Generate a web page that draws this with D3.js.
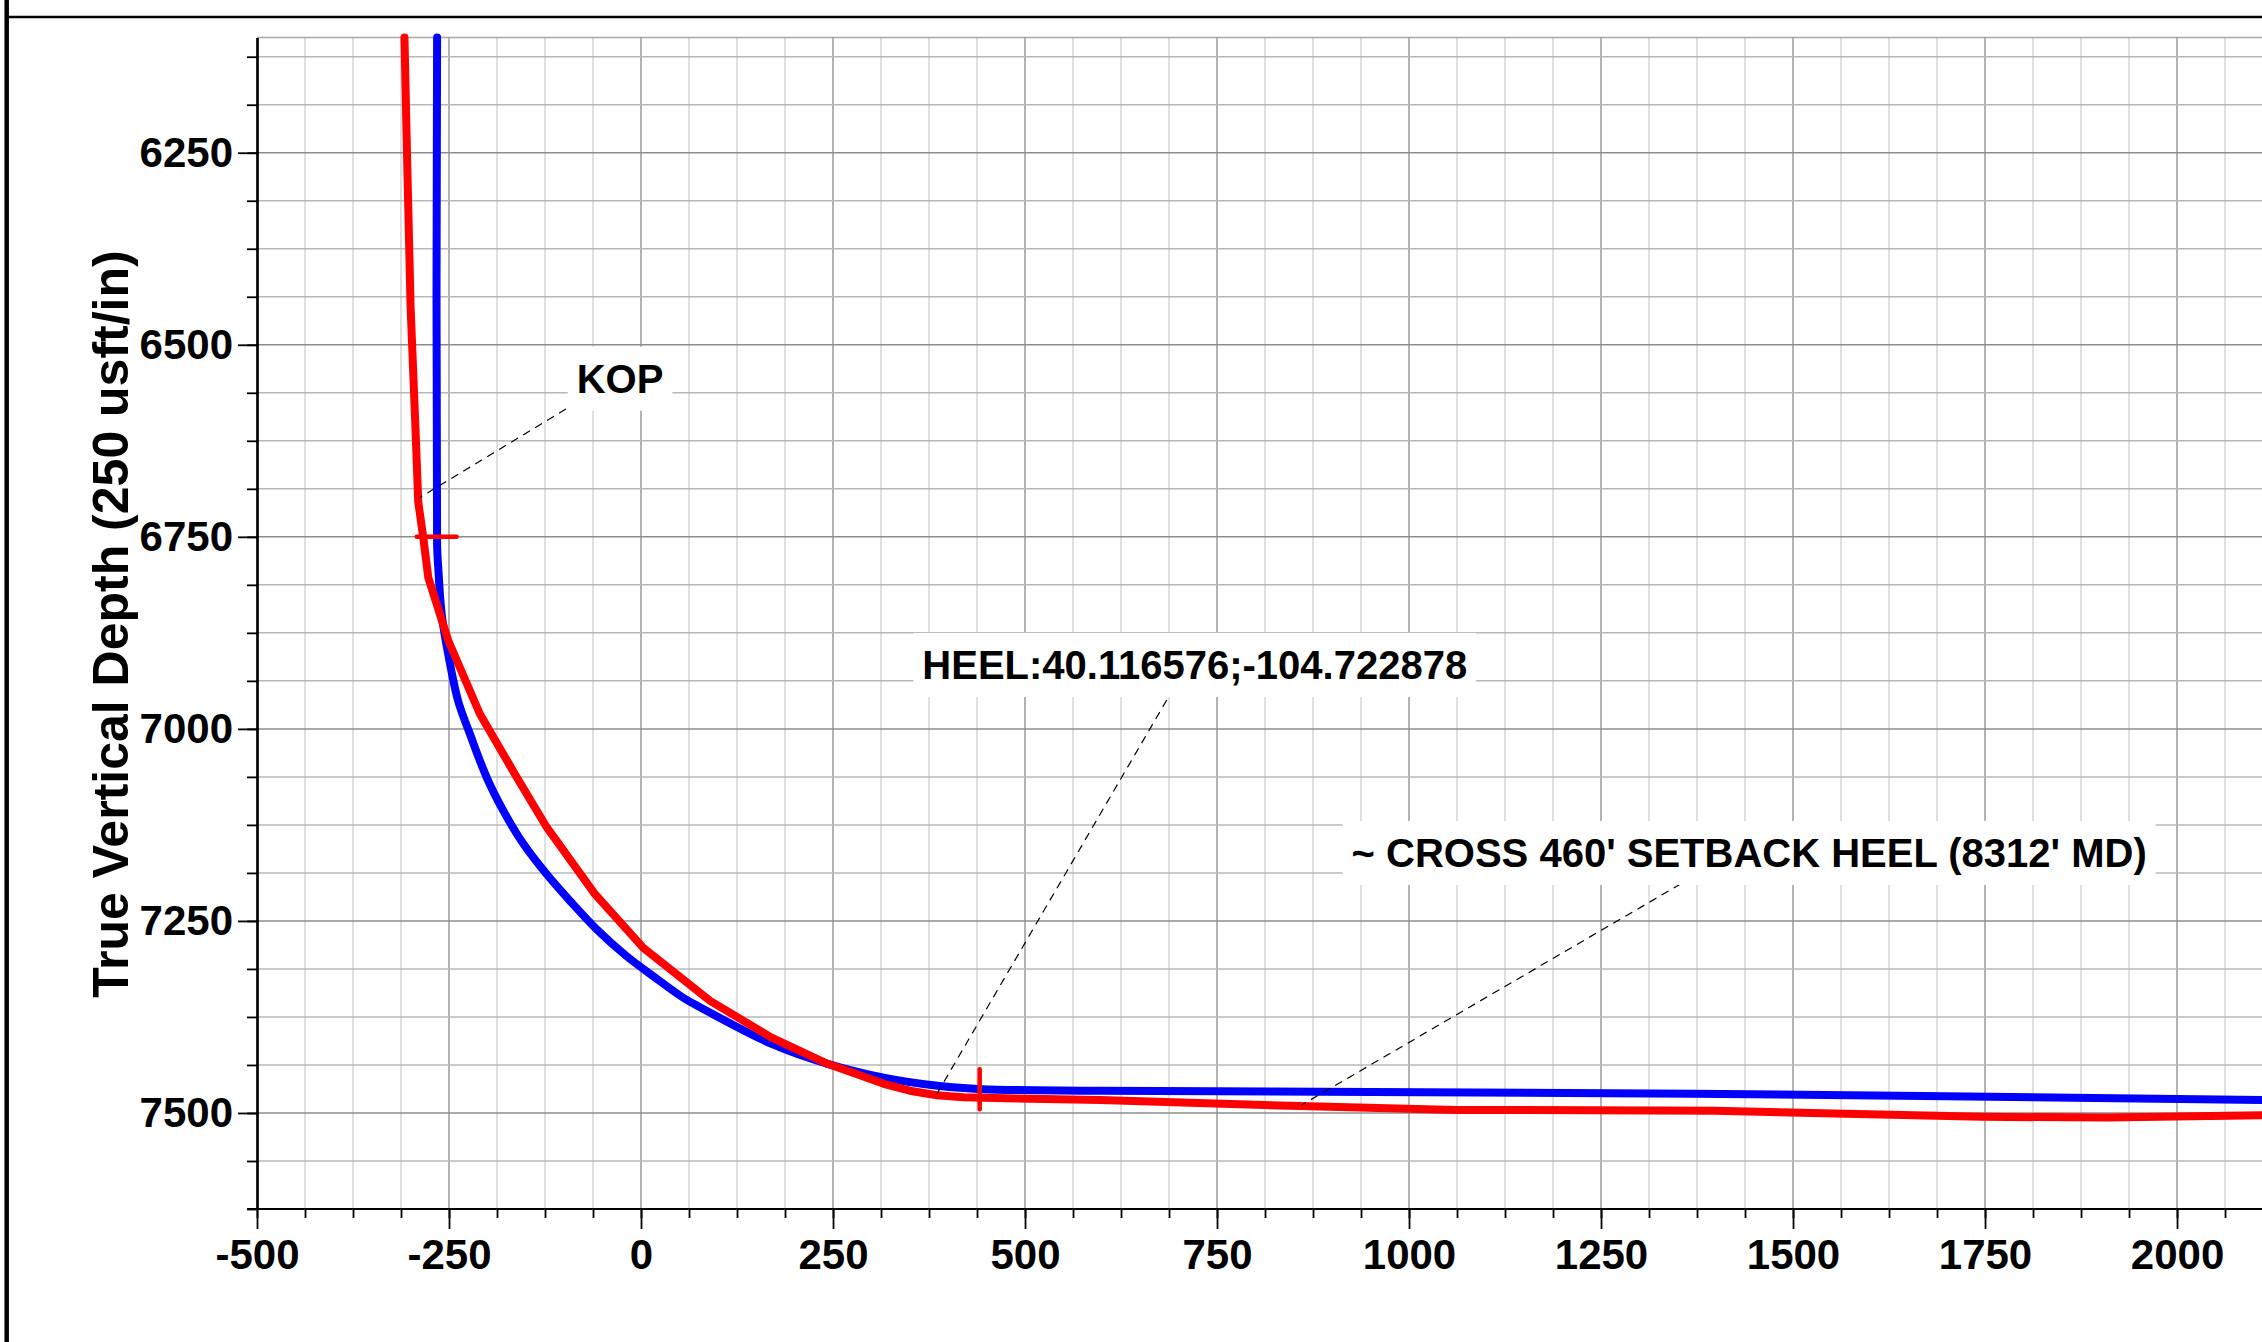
<!DOCTYPE html>
<html>
<head>
<meta charset="utf-8">
<script src="https://cdn.jsdelivr.net/npm/d3@7/dist/d3.min.js"></script>
<style>
  html, body { margin: 0; padding: 0; background: #fff; }
  svg { display: block; }
  text { font-family: "Liberation Sans", Arial, Helvetica, sans-serif; font-weight: bold; fill: #000; }
</style>
</head>
<body>
<svg id="chart" width="2262" height="1342"></svg>
<script>
// ---------------- DATA ----------------
// Plan (blue): vertical section (usft) and true vertical depth (usft)
const planVS  = [-265.5, -265.5, -264, -259.5, -251, -238, -222.6, -201, -179, -153, -123, -92.4, -57.7, -18.6, 16, 55, 78, 170, 243, 316, 389, 444, 598, 1370, 2110];
const planTVD = [6100, 6760, 6790, 6851, 6903, 6964, 7007, 7063, 7107, 7150, 7189, 7224, 7261, 7296, 7322, 7350, 7363, 7410, 7436, 7454, 7465, 7469, 7471, 7475, 7483];

// Actual (red): survey stations
const actualVS  = [-308, -304.7, -300, -294, -290, -283.5, -277, -251, -209.6, -161.8, -122.8, -60, 3, 90, 170, 243, 285, 316, 350, 385, 420, 460, 598, 858, 1061, 1398, 1746, 1910, 2110];
const actualTVD = [6100, 6251, 6451, 6600, 6705, 6751, 6803, 6885, 6981, 7063, 7128, 7215, 7285, 7354, 7402, 7436, 7451, 7462, 7471, 7477, 7479.5, 7480.5, 7483, 7491, 7496, 7497, 7505, 7506, 7503];

// Markers on the plan (KOP and heel)
const markerVS   = [-266, 441];
const markerTVD  = [6750, 7469];
const markerDir  = ["h", "v"];
const markerHalf = 26;

// Annotations
const annText    = ["KOP", "HEEL:40.116576;-104.722878", "~ CROSS 460' SETBACK HEEL (8312' MD)"];
const annVS      = [-27.3, 721, 1442.9];      // label centre
const annTVD     = [6562.4, 6935, 7179.8];    // label baseline
const leadFromVS = [-97.8, 684.6, 1353.7];
const leadFromTVD= [6583.6, 6962.4, 7201.9];
const leadToVS   = [-287.8, 385.2, 860.3];
const leadToTVD  = [6698.8, 7475.3, 7489.6];

// Axes
const xDomain = [-500, 2110];
const yDomain = [6100, 7625];
const xMajorTicks = [-500, -250, 0, 250, 500, 750, 1000, 1250, 1500, 1750, 2000];
const yMajorTicks = [6250, 6500, 6750, 7000, 7250, 7500];
const minorStep = 62.5;
const yTitle = "True Vertical Depth (250 usft/in)";

// ---------------- LAYOUT ----------------
const W = 2262, H = 1342;
const plotL = 257, plotR = 2261.5, plotT = 37.5, plotB = 1209;

const svg = d3.select("#chart");
const x = d3.scaleLinear().domain(xDomain).range([plotL, plotR]);
const y = d3.scaleLinear().domain(yDomain).range([plotT, plotB]);

const xMinor = d3.range(xDomain[0], xDomain[1], minorStep);
const yMinor = d3.range(yDomain[0] + 25, yDomain[1] + 0.01, minorStep); // 6125 ... 7625

// outer frame
svg.append("line").attr("x1", 6.7).attr("x2", 6.7).attr("y1", 0).attr("y2", H)
  .attr("stroke", "#000").attr("stroke-width", 4.5);
svg.append("line").attr("x1", 6).attr("x2", W).attr("y1", 17).attr("y2", 17)
  .attr("stroke", "#000").attr("stroke-width", 2.5);

// grid
const grid = svg.append("g");
grid.selectAll("line.vx").data(xMinor.filter(v => v > xDomain[0])).enter().append("line")
  .attr("x1", d => x(d)).attr("x2", d => x(d)).attr("y1", plotT).attr("y2", plotB)
  .attr("stroke", d => (d % 250 === 0) ? "#9a9a9a" : "#d6d6d6")
  .attr("stroke-width", 1.5);
grid.selectAll("line.hy").data(yMinor.filter(v => v < yDomain[1])).enter().append("line")
  .attr("x1", plotL).attr("x2", W).attr("y1", d => y(d)).attr("y2", d => y(d))
  .attr("stroke", d => (d % 250 === 0) ? "#8c8c8c" : "#b8b8b8")
  .attr("stroke-width", 1.5);
grid.append("line").attr("x1", plotL).attr("x2", W).attr("y1", y(yDomain[0])).attr("y2", y(yDomain[0]))
  .attr("stroke", "#a8a8a8").attr("stroke-width", 1.5);

// axes
const fmt = d => String(d);
const yAxisMinor = d3.axisLeft(y).tickValues(yMinor).tickSize(10).tickSizeOuter(0).tickFormat("");
const yAxisMajor = d3.axisLeft(y).tickValues(yMajorTicks).tickSize(19).tickSizeOuter(0).tickPadding(5).tickFormat(fmt);
const xAxisMinor = d3.axisBottom(x).tickValues(xMinor).tickSize(9).tickSizeOuter(0).tickFormat("");
const xAxisMajor = d3.axisBottom(x).tickValues(xMajorTicks).tickSize(20).tickSizeOuter(0).tickPadding(10).tickFormat(fmt);

function styleAxis(g) {
  g.select(".domain").attr("stroke", "#000").attr("stroke-width", 2.2);
  g.selectAll(".tick line").attr("stroke", "#000").attr("stroke-width", 1.8);
  g.selectAll(".tick text").attr("font-size", 42).attr("font-weight", "bold")
    .attr("font-family", '"Liberation Sans", Arial, sans-serif').attr("fill", "#000");
  g.attr("font-family", null).attr("font-size", null);
}
svg.append("g").attr("transform", `translate(${plotL},0)`).call(yAxisMinor).call(styleAxis);
svg.append("g").attr("transform", `translate(${plotL},0)`).call(yAxisMajor).call(styleAxis);
svg.append("g").attr("transform", `translate(0,${plotB})`).call(xAxisMinor).call(styleAxis)
  .select(".domain").attr("d", `M${plotL - 10},0H${W}`);
svg.append("g").attr("transform", `translate(0,${plotB})`).call(xAxisMajor).call(styleAxis)
  .select(".domain").attr("d", `M${plotL},0H${W}`);

// y title
svg.append("text")
  .attr("transform", `translate(128,624) rotate(-90)`)
  .attr("text-anchor", "middle")
  .attr("font-size", 50)
  .text(yTitle);

// curves
const planPts = planVS.map((v, i) => [v, planTVD[i]]);
const actPts  = actualVS.map((v, i) => [v, actualTVD[i]]);

const planLine = d3.line().x(d => x(d[0])).y(d => y(d[1])).curve(d3.curveCatmullRom.alpha(0.5));
const actLine  = d3.line().x(d => x(d[0])).y(d => y(d[1])).curve(d3.curveLinear);

svg.append("path").datum(planPts).attr("d", planLine)
  .attr("fill", "none").attr("stroke", "#0000ff").attr("stroke-width", 8)
  .attr("stroke-linecap", "round").attr("stroke-linejoin", "round");
svg.append("path").datum(actPts).attr("d", actLine)
  .attr("fill", "none").attr("stroke", "#ff0000").attr("stroke-width", 8)
  .attr("stroke-linecap", "round").attr("stroke-linejoin", "round");

// markers
markerVS.forEach((v, i) => {
  const horiz = markerDir[i] === "h";
  svg.append("line")
    .attr("x1", x(horiz ? v - markerHalf : v)).attr("x2", x(horiz ? v + markerHalf : v))
    .attr("y1", y(horiz ? markerTVD[i] : markerTVD[i] - markerHalf))
    .attr("y2", y(horiz ? markerTVD[i] : markerTVD[i] + markerHalf))
    .attr("stroke", "#ff0000").attr("stroke-width", 4.5).attr("stroke-linecap", "round");
});

// leaders
annText.forEach((t, i) => {
  svg.append("line")
    .attr("x1", x(leadFromVS[i])).attr("y1", y(leadFromTVD[i]))
    .attr("x2", x(leadToVS[i])).attr("y2", y(leadToTVD[i]))
    .attr("stroke", "#000").attr("stroke-width", 1.2).attr("stroke-dasharray", "8,6");
});

// labels with white boxes
annText.forEach((t, i) => {
  const g = svg.append("g");
  const rect = g.append("rect").attr("fill", "#fff");
  const txt = g.append("text")
    .attr("x", x(annVS[i])).attr("y", y(annTVD[i]))
    .attr("text-anchor", "middle").attr("font-size", 40)
    .text(t);
  const bb = txt.node().getBBox();
  rect.attr("x", bb.x - 9).attr("y", bb.y - 10).attr("width", bb.width + 18).attr("height", bb.height + 20);
});
</script>
</body>
</html>
